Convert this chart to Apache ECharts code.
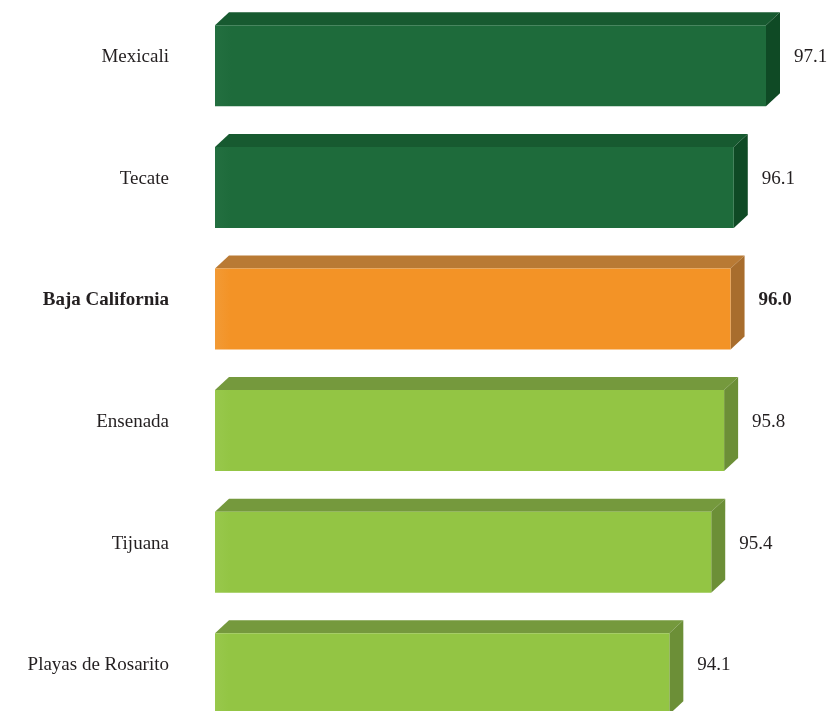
<!DOCTYPE html>
<html>
<head>
<meta charset="utf-8">
<script src="https://cdn.jsdelivr.net/npm/echarts@6/dist/echarts.min.js"></script>
<style>
html,body{margin:0;padding:0;background:#fff;}
#chart{width:838px;height:711px;}
</style>
</head>
<body>
<div id="chart"></div>
<script>
const categories = ['Mexicali', 'Tecate', 'Baja California', 'Ensenada', 'Tijuana', 'Playas de Rosarito'];
const values = [97.1, 96.1, 96.0, 95.8, 95.4, 94.1];
const labels = ['97.1', '96.1', '96.0', '95.8', '95.4', '94.1'];
const groups = ['dark', 'dark', 'state', 'light', 'light', 'light'];

const palette = {
  dark:  {front: '#1e6b3b', top: '#175a30', side: '#0f4a25', left: '#236f40'},
  state: {front: '#f39326', top: '#b97a34', side: '#a86d2d', left: '#f29a35'},
  light: {front: '#93c544', top: '#75993d', side: '#6c8f37', left: '#98c84c'}
};
const DX = 14, DY = 13;
const AXIS_MIN = 80, AXIS_MAX = 98;
// y range: bands of equal height, the last one partly cut off by the page edge
const Y_MIN = -0.5, Y_MAX = 5.306;
const FONT = '"Liberation Serif", "DejaVu Serif", serif';

const chart = echarts.init(document.getElementById('chart'), null, {renderer: 'canvas'});

function renderItem(params, api) {
  const idx = api.value(1);
  const v = api.value(0);
  const start = api.coord([AXIS_MIN, idx]);
  const end = api.coord([v, idx]);
  const bh = api.size([0, 1])[1] * 0.666;
  const x0 = start[0], x1 = end[0];
  const yT = end[1] - bh / 2, yB = end[1] + bh / 2;
  const c = palette[groups[idx]];
  const bold = groups[idx] === 'state';
  const midY = (yT - DY + yB) / 2 - 2;
  return {
    type: 'group',
    children: [
      {type: 'polygon', shape: {points: [[x0, yT], [x0 + DX, yT - DY], [x1 + DX, yT - DY], [x1, yT]]},
       style: {fill: c.top}},
      {type: 'polygon', shape: {points: [[x1, yT], [x1 + DX, yT - DY], [x1 + DX, yB - DY], [x1, yB]]},
       style: {fill: c.side}},
      {type: 'rect', shape: {x: x0, y: yT, width: x1 - x0, height: bh},
       style: {fill: new echarts.graphic.LinearGradient(0, 0, 1, 0, [
         {offset: 0, color: c.left}, {offset: 0.03, color: c.front}, {offset: 1, color: c.front}])}},
      {type: 'text', style: {
        text: labels[idx], x: x1 + DX + 14, y: midY,
        verticalAlign: 'middle', align: 'left',
        font: (bold ? 'bold ' : '') + '19px ' + FONT, fill: '#231f20'}},
      {type: 'text', style: {
        text: categories[idx], x: x0 - 46, y: midY,
        verticalAlign: 'middle', align: 'right',
        font: (bold ? 'bold ' : '') + '19px ' + FONT, fill: '#231f20'}}
    ]
  };
}

chart.setOption({
  animation: false,
  backgroundColor: '#ffffff',
  grid: {left: 215, right: 43, top: 5, bottom: 0, containLabel: false},
  xAxis: {type: 'value', min: AXIS_MIN, max: AXIS_MAX, show: false},
  yAxis: {type: 'value', min: Y_MIN, max: Y_MAX, inverse: true, show: false},
  series: [{
    type: 'custom',
    renderItem: renderItem,
    clip: false,
    encode: {x: 0, y: 1},
    data: values.map((v, i) => [v, i])
  }]
});
</script>
</body>
</html>
